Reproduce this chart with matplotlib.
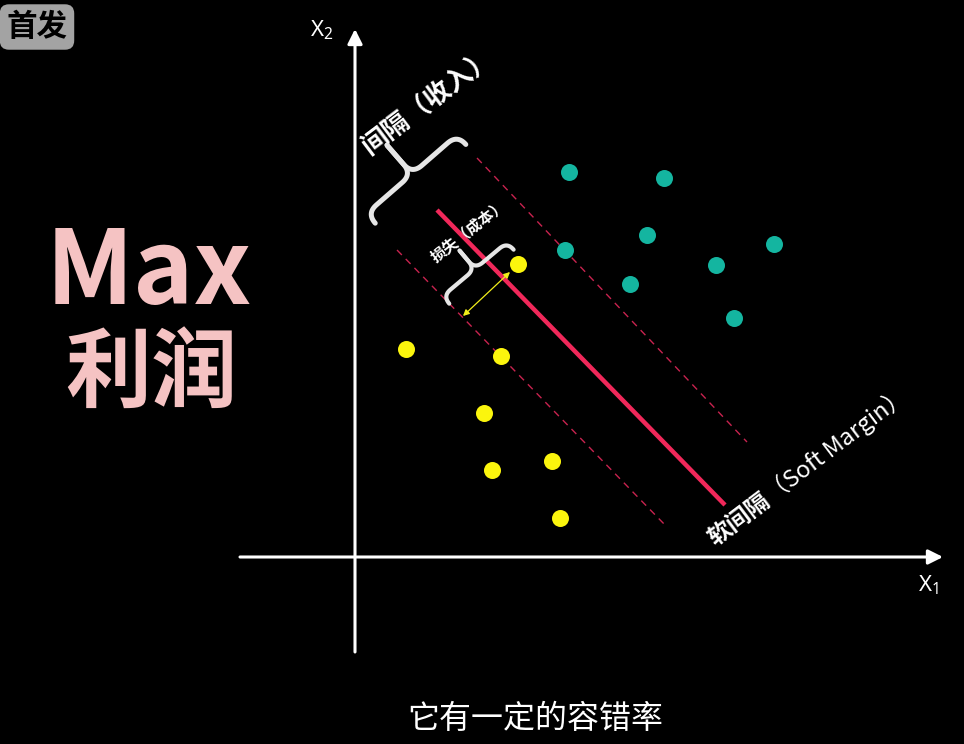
import numpy as np
import matplotlib
matplotlib.use('Agg')
import matplotlib.pyplot as plt

plt.rcParams['font.family'] = ['Noto Sans CJK SC', 'DejaVu Sans']
plt.rcParams['mathtext.fontset'] = 'custom'
plt.rcParams['mathtext.rm'] = 'Noto Sans'
plt.rcParams['mathtext.it'] = 'Noto Sans'

# --- data (x1, x2), origin where the two axes cross ---
teal_x1 = [214, 309, 292, 210, 419, 361, 275, 379]
teal_x2 = [385, 379, 322, 307, 313, 292, 273, 239]
yellow_x1 = [163, 51, 146, 129, 197, 137, 205]
yellow_x2 = [293, 208, 201, 144, 96, 87, 39]

hyperplane_x1 = [82, 370]
hyperplane_x2 = [347, 52]
margin_up_x1 = [122, 392]
margin_up_x2 = [399, 115]
margin_lo_x1 = [42, 312]
margin_lo_x2 = [307, 30]

loss_x1 = [108, 155]          # yellow double arrow (loss / cost)
loss_x2 = [241, 285]

xaxis_x1 = [-115, 588]
yaxis_x2 = [-95, 528]

# --- figure: one axes filling the canvas, 1 unit = 1 pixel ---
fig = plt.figure(figsize=(9.64, 7.44), dpi=100)
fig.patch.set_facecolor('black')
ax = fig.add_axes([0, 0, 1, 1])
ax.set_facecolor('black')
ax.set_xlim(-355, 609)
ax.set_ylim(-187, 557)
ax.axis('off')

# axes with arrow heads
ax.annotate('', xy=(xaxis_x1[1], 0), xytext=(xaxis_x1[0], 0),
            arrowprops=dict(arrowstyle='-|>', color='white', lw=2.2, mutation_scale=22,
                            shrinkA=0, shrinkB=0))
ax.annotate('', xy=(0, yaxis_x2[1]), xytext=(0, yaxis_x2[0]),
            arrowprops=dict(arrowstyle='-|>', color='white', lw=2.2, mutation_scale=22,
                            shrinkA=0, shrinkB=0))
ax.text(-33, 527, r'$\mathrm{X}_2$', color='white', fontsize=16, ha='center', va='center')
ax.text(573, -28, r'$\mathrm{X}_1$', color='white', fontsize=16, ha='center', va='center')

# soft-margin lines
ax.plot(margin_up_x1, margin_up_x2, color='#c8234f', lw=1, dashes=(5, 4))
ax.plot(margin_lo_x1, margin_lo_x2, color='#c8234f', lw=1, dashes=(5, 4))
ax.plot(hyperplane_x1, hyperplane_x2, color='#f0285a', lw=3.2, solid_capstyle='butt')

# points
ax.scatter(teal_x1, teal_x2, s=150, color='#14b5a0', zorder=3, linewidths=0)
ax.scatter(yellow_x1, yellow_x2, s=150, color='#fbf50d', zorder=3, linewidths=0)

ax.annotate('', xy=(loss_x1[0], loss_x2[0]), xytext=(loss_x1[1], loss_x2[1]),
            arrowprops=dict(arrowstyle='<|-|>', color='#f2ee1a', lw=0.9, mutation_scale=9,
                            shrinkA=0, shrinkB=0), zorder=4)


def brace(cx, cy, half, ang, hook, tip, lw):
    # curly brace: ends hook back, middle stem points to +v
    a = np.deg2rad(ang)
    u_dir = np.array([np.cos(a), np.sin(a)])
    v_dir = np.array([-np.sin(a), np.cos(a)])
    t = np.linspace(0, 1, 20)[:, None]
    r = hook
    for s in (-1, 1):
        p0 = np.array([s * half, -hook])
        p1 = np.array([s * half, 0.0])
        p2 = np.array([s * (half - hook), 0.0])
        c1 = (1 - t) ** 2 * p0 + 2 * (1 - t) * t * p1 + t ** 2 * p2
        q0 = np.array([s * r, 0.0])
        q1 = np.array([0.0, 0.0])
        q2 = np.array([0.0, r])
        c2 = (1 - t) ** 2 * q0 + 2 * (1 - t) * t * q1 + t ** 2 * q2
        pts = np.vstack([c1, c2, [[0.0, tip]]])
        xs = cx + pts[:, 0] * u_dir[0] + pts[:, 1] * v_dir[0]
        ys = cy + pts[:, 0] * u_dir[1] + pts[:, 1] * v_dir[1]
        ax.plot(xs, ys, color='#e6e6e6', lw=lw,
                solid_capstyle='round', solid_joinstyle='round', zorder=4)


brace(57, 383, 60, 41, 13, 38, 3.6)
brace(120, 288, 42, 40, 10, 24, 3.0)

# labels
ax.text(73, 455, '间隔（收入）', color='white', fontsize=19, fontweight='bold',
        rotation=37, rotation_mode='anchor', ha='center', va='center')
ax.text(114, 326, '损失（成本）', color='white', fontsize=11, fontweight='bold',
        rotation=38, rotation_mode='anchor', ha='center', va='center')
ax.text(363, 7, '软间隔', color='white', fontsize=17, fontweight='bold',
        rotation=37, rotation_mode='anchor', ha='left', va='bottom')
ax.text(420, 50, '（Soft Margin）', color='white', fontsize=17,
        rotation=37, rotation_mode='anchor', ha='left', va='bottom')

# left big title
ax.text(-206, 283, 'Max', color='#f5c3c3', fontsize=74, fontweight='heavy',
        ha='center', va='center')
ax.text(-204, 182, '利润', color='#f5c3c3', fontsize=62, fontweight='heavy',
        ha='center', va='center')

# badge
ax.text(-318, 530, '首发', color='black', fontsize=22, fontweight='bold', ha='center', va='center',
        bbox=dict(boxstyle='round,pad=0.22,rounding_size=0.3', fc='#a3a3a3', ec='none'))

# caption
ax.text(180, -162, '它有一定的容错率', color='white', fontsize=23, fontweight='light',
        ha='center', va='center')

fig.savefig('out.png', dpi=100, facecolor='black')
